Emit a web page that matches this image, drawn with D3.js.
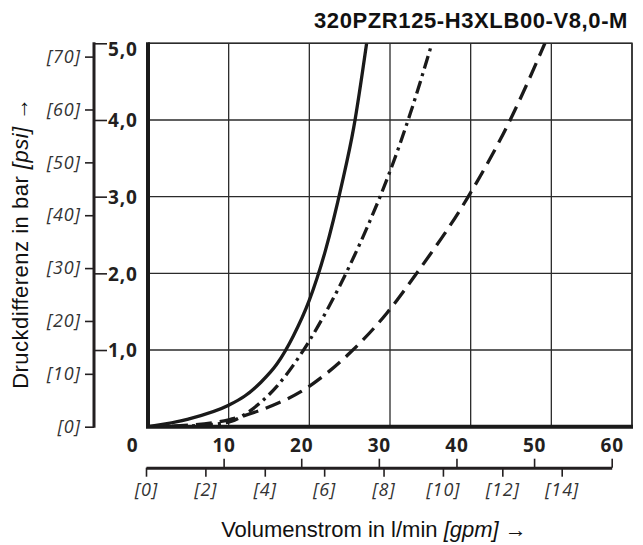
<!DOCTYPE html>
<html>
<head>
<meta charset="utf-8">
<script src="https://cdn.jsdelivr.net/npm/d3@7"></script>
<style>
    body { margin: 0; background: #fff; }
    .axis text { font-family: "Open Sans", sans-serif; fill: #231f20; }
    .label-bold { font-weight: 700; font-size: 19px; letter-spacing: 0.8px; }
    .label-italic { font-style: italic; font-size: 18px; letter-spacing: 1px; fill: #333 !important; }
    .title { font-family: "Liberation Sans", Arial, sans-serif; fill: #111; }
</style>
</head>
<body>
<div id="chart" style="width:643px;height:545px;"></div>
<script>
// flow in l/min, pressure difference in bar
let solidFlow = [0, 5, 10, 12, 14, 16, 18, 20, 22, 24, 25.5, 27.1];
let solidDp = [0, 0.1, 0.28, 0.4, 0.58, 0.82, 1.18, 1.65, 2.3, 3.15, 3.9, 5.0];

let dashDotFlow = [0, 5, 10, 12, 14, 16, 18, 20, 22.5, 25, 27.5, 30, 32.5, 35.2];
let dashDotDp = [0, 0.01, 0.06, 0.16, 0.32, 0.53, 0.8, 1.12, 1.58, 2.1, 2.68, 3.33, 4.08, 5.0];

let dashedFlow = [0, 5, 10, 15.5, 19, 22.2, 25.2, 29.6, 33.3, 39.7, 44.9, 49.2];
let dashedDp = [0, 0.02, 0.09, 0.28, 0.46, 0.7, 0.98, 1.48, 2.0, 3.0, 4.0, 5.0];

let flowTicks = [0, 10, 20, 30, 40, 50, 60];
let barTicks = [1, 2, 3, 4, 5];
let psiTicks = [0, 10, 20, 30, 40, 50, 60, 70];
let gpmTicks = [0, 2, 4, 6, 8, 10, 12, 14];

let chartTitle = "320PZR125-H3XLB00-V8,0-M";
const PSI_PER_BAR = 14.5038;

class PressureChart {
    constructor(parentElement) {
        this.parentElement = parentElement;
        this.series = [
            { name: "solid", flow: solidFlow, dp: solidDp, dash: null },
            { name: "dashdot", flow: dashDotFlow, dp: dashDotDp, dash: "13,5,3,5" },
            { name: "dashed", flow: dashedFlow, dp: dashedDp, dash: "16,8" }
        ];
        this.initVis();
    }

    initVis() {
        let vis = this;

        vis.width = 643;
        vis.height = 545;
        vis.plot = { left: 148, right: 632, top: 43.3, bottom: 426.7 };

        vis.svg = d3.select("#" + vis.parentElement)
            .append("svg")
            .attr("width", vis.width)
            .attr("height", vis.height);

        vis.x = d3.scaleLinear().domain([0, 60]).range([vis.plot.left, vis.plot.right]);
        vis.y = d3.scaleLinear().domain([0, 5]).range([vis.plot.bottom, vis.plot.top]);
        vis.psi = d3.scaleLinear().domain([0, 5 * PSI_PER_BAR]).range(vis.y.range());

        // the lower flow scale is a bit narrower than the grid
        vis.flowAxisX = d3.scaleLinear().domain([0, 60]).range([146, 611.7]);
        vis.gpm = d3.scaleLinear().domain([0, 14]).range([146, 561.7]);

        vis.drawGrid();
        vis.drawAxes();
        vis.updateVis();
        vis.drawTitles();
    }

    drawGrid() {
        let vis = this;
        let p = vis.plot;
        let grid = vis.svg.append("g").attr("class", "grid");

        grid.selectAll("line.vgrid")
            .data(flowTicks.slice(1))
            .enter()
            .append("line")
            .attr("class", "vgrid")
            .attr("x1", d => vis.x(d)).attr("x2", d => vis.x(d))
            .attr("y1", p.top).attr("y2", p.bottom)
            .attr("stroke", "#2b2b2b")
            .attr("stroke-width", 1.3);

        grid.selectAll("line.hgrid")
            .data(barTicks)
            .enter()
            .append("line")
            .attr("class", "hgrid")
            .attr("x1", p.left).attr("x2", p.right)
            .attr("y1", d => vis.y(d)).attr("y2", d => vis.y(d))
            .attr("stroke", "#2b2b2b")
            .attr("stroke-width", 1.3);

        // thin top / right frame
        grid.append("path")
            .attr("d", `M${p.left},${p.top}H${p.right}V${p.bottom}`)
            .attr("fill", "none")
            .attr("stroke", "#2b2b2b")
            .attr("stroke-width", 1.5);

        // thick left and bottom frame
        grid.append("path")
            .attr("d", `M${p.left},${p.top - 1}V${p.bottom}H${p.right + 1}`)
            .attr("fill", "none")
            .attr("stroke", "#1a1a1a")
            .attr("stroke-width", 4);
    }

    drawAxes() {
        let vis = this;
        let p = vis.plot;
        let comma = d => d3.format(".1f")(d).replace(".", ",");

        // psi ticks on the left of the vertical line
        let psiAxis = vis.svg.append("g")
            .attr("class", "axis")
            .attr("transform", "translate(94,0)")
            .call(d3.axisLeft(vis.psi).tickValues(psiTicks).tickSize(9).tickPadding(4)
                .tickFormat(d => `[${d}]`));
        psiAxis.select(".domain").remove();
        psiAxis.selectAll("line").attr("stroke", "#231f20").attr("stroke-width", 1.6);
        psiAxis.selectAll("text").attr("class", "label-italic");

        // bar ticks on the right of it
        let barAxis = vis.svg.append("g")
            .attr("class", "axis")
            .attr("transform", "translate(94,0)")
            .call(d3.axisRight(vis.y).tickValues(barTicks).tickSize(13).tickPadding(1)
                .tickFormat(comma));
        barAxis.select(".domain").remove();
        barAxis.selectAll("line").attr("stroke", "#231f20").attr("stroke-width", 1.6);
        barAxis.selectAll("text").attr("class", "label-bold")
            .attr("dy", d => d === 5 ? "0.62em" : "0.36em");

        vis.svg.append("line")
            .attr("x1", 94).attr("x2", 94)
            .attr("y1", p.top - 1).attr("y2", p.bottom + 1)
            .attr("stroke", "#231f20")
            .attr("stroke-width", 3);

        // lower axis: l/min up, gpm down
        let flowAxis = vis.svg.append("g")
            .attr("class", "axis")
            .attr("transform", "translate(0,467.7)")
            .call(d3.axisTop(vis.flowAxisX).tickValues(flowTicks).tickSize(9).tickPadding(7)
                .tickSizeOuter(0));
        flowAxis.select(".domain").attr("stroke", "#231f20").attr("stroke-width", 3);
        flowAxis.selectAll(".tick line").attr("stroke", "#231f20").attr("stroke-width", 1.6)
            .attr("display", d => d === 0 ? "none" : null);
        flowAxis.selectAll("text").attr("class", "label-bold")
            .attr("dx", d => d === 0 ? -14 : 0);

        let gpmAxis = vis.svg.append("g")
            .attr("class", "axis")
            .attr("transform", "translate(0,467.7)")
            .call(d3.axisBottom(vis.gpm).tickValues(gpmTicks).tickSize(9).tickPadding(7)
                .tickFormat(d => `[${d}]`));
        gpmAxis.select(".domain").remove();
        gpmAxis.selectAll("line").attr("stroke", "#231f20").attr("stroke-width", 1.6);
        gpmAxis.selectAll("text").attr("class", "label-italic");
    }

    updateVis() {
        let vis = this;
        let p = vis.plot;

        vis.svg.append("clipPath")
            .attr("id", "plot-clip")
            .append("rect")
            .attr("x", p.left).attr("y", p.top)
            .attr("width", p.right - p.left).attr("height", p.bottom - p.top);

        let line = d3.line()
            .x(d => vis.x(d[0]))
            .y(d => vis.y(d[1]))
            .curve(d3.curveMonotoneX);

        vis.svg.append("g")
            .attr("clip-path", "url(#plot-clip)")
            .selectAll("path.curve")
            .data(vis.series)
            .enter()
            .append("path")
            .attr("class", d => "curve " + d.name)
            .attr("d", d => line(d.flow.map((f, i) => [f, d.dp[i]])))
            .attr("fill", "none")
            .attr("stroke", "#1a1a1a")
            .attr("stroke-width", 3.3)
            .attr("stroke-dasharray", d => d.dash);
    }

    drawTitles() {
        let vis = this;

        vis.svg.append("text")
            .attr("class", "title")
            .attr("x", 628).attr("y", 28)
            .attr("text-anchor", "end")
            .attr("font-weight", 700)
            .attr("font-size", 22)
            .attr("letter-spacing", 0.6)
            .text(chartTitle);

        let xt = vis.svg.append("text")
            .attr("class", "title")
            .attr("x", 374).attr("y", 537)
            .attr("text-anchor", "middle")
            .attr("font-size", 22);
        xt.append("tspan").text("Volumenstrom in l/min ");
        xt.append("tspan").attr("font-style", "italic").text("[gpm]");
        xt.append("tspan").text(" \u2192");

        let yt = vis.svg.append("text")
            .attr("class", "title")
            .attr("transform", "translate(28,243) rotate(-90)")
            .attr("text-anchor", "middle")
            .attr("font-size", 22)
            .attr("letter-spacing", 0.5);
        yt.append("tspan").text("Druckdifferenz in bar ");
        yt.append("tspan").attr("font-style", "italic").text("[psi]");
        yt.append("tspan").text(" \u2192");
    }
}

new PressureChart("chart");
</script>
</body>
</html>
